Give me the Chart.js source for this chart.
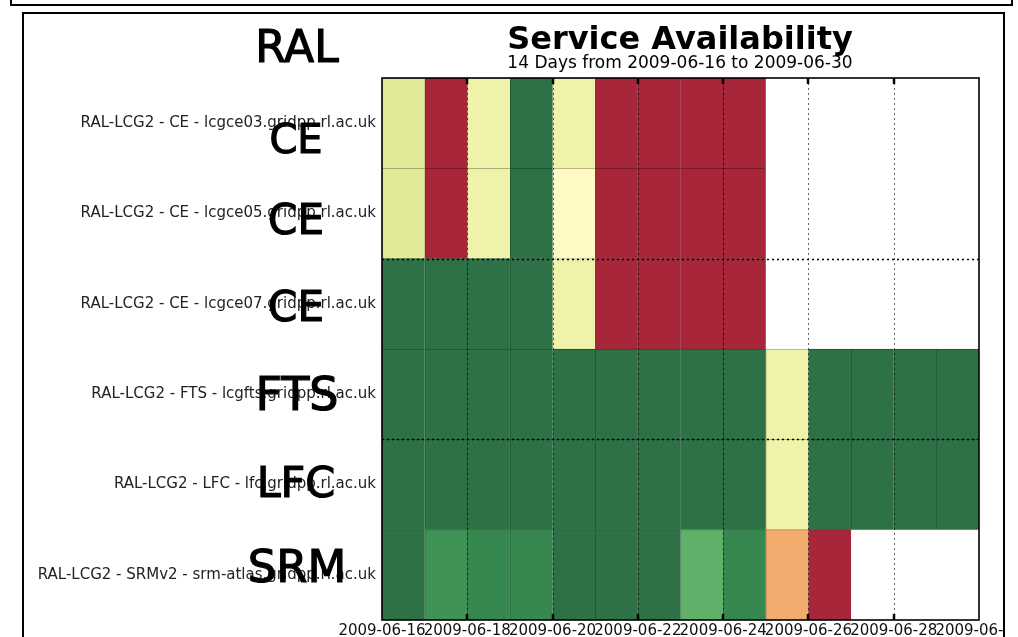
<!DOCTYPE html>
<html>
<head>
<meta charset="utf-8">
<script src="https://cdn.jsdelivr.net/npm/chart.js@4"></script>
<style>
  html, body { margin: 0; padding: 0; background: #fff; width: 1018px; height: 637px; overflow: hidden; position: relative; font-family: "DejaVu Sans", sans-serif; }
  #topbox { position: absolute; left: 10px; top: -10px; width: 1003px; height: 16px; border: 2px solid #000; box-sizing: border-box; }
  #frame { position: absolute; left: 22px; top: 12px; width: 983px; height: 640px; border: 2px solid #000; box-sizing: border-box; overflow: hidden; }
  #chart { position: absolute; left: -24px; top: -14px; }
  .title { position: absolute; left: 380px; width: 600px; text-align: center; color: #000; white-space: nowrap; }
  #t1 { top: 22px; font-size: 32px; font-weight: bold; line-height: 32px; }
  #t2 { top: 54px; font-size: 17px; line-height: 17px; }
  .hand { position: absolute; transform: translate(-50%, -50%); font-family: "DejaVu Sans", sans-serif; line-height: 1; color: #000; white-space: nowrap; -webkit-text-stroke: 1.2px #000; }
</style>
</head>
<body>
<div id="topbox"></div>
<div id="frame"><canvas id="chart" width="1100" height="637"></canvas></div>
<div class="title" id="t1">Service Availability</div>
<div class="title" id="t2">14 Days from 2009-06-16 to 2009-06-30</div>
<div class="hand" style="left:297px; top:47px; font-size:44px;">RAL</div>
<div class="hand" style="left:296px; top:139px; font-size:40px;">CE</div>
<div class="hand" style="left:296px; top:220px; font-size:42px;">CE</div>
<div class="hand" style="left:296px; top:307px; font-size:42px;">CE</div>
<div class="hand" style="left:297px; top:394px; font-size:46px;">FTS</div>
<div class="hand" style="left:296px; top:482px; font-size:43px;">LFC</div>
<div class="hand" style="left:297px; top:566px; font-size:45px;">SRM</div>
<script>
// ---- data ----
const services = [
  'RAL-LCG2 - CE - lcgce03.gridpp.rl.ac.uk',
  'RAL-LCG2 - CE - lcgce05.gridpp.rl.ac.uk',
  'RAL-LCG2 - CE - lcgce07.gridpp.rl.ac.uk',
  'RAL-LCG2 - FTS - lcgfts.gridpp.rl.ac.uk',
  'RAL-LCG2 - LFC - lfc.gridpp.rl.ac.uk',
  'RAL-LCG2 - SRMv2 - srm-atlas.gridpp.rl.ac.uk'
];
const days = ['2009-06-16','2009-06-17','2009-06-18','2009-06-19','2009-06-20','2009-06-21','2009-06-22',
              '2009-06-23','2009-06-24','2009-06-25','2009-06-26','2009-06-27','2009-06-28','2009-06-29'];
const tickLabels = ['2009-06-16','2009-06-18','2009-06-20','2009-06-22','2009-06-24','2009-06-26','2009-06-28','2009-06-30'];
// daily availability (%), null = no data
const ce03 = [60, 0, 55, 100, 55, 0, 0, 0, 0, null, null, null, null, null];
const ce05 = [60, 0, 55, 100, 50, 0, 0, 0, 0, null, null, null, null, null];
const ce07 = [100, 100, 100, 100, 55, 0, 0, 0, 0, null, null, null, null, null];
const fts  = [100, 100, 100, 100, 100, 100, 100, 100, 100, 55, 100, 100, 100, 100];
const lfc  = [100, 100, 100, 100, 100, 100, 100, 100, 100, 55, 100, 100, 100, 100];
const srm  = [100, 90, 95, 95, 100, 100, 100, 80, 95, 30, 0, null, null, null];
const rows = [ce03, ce05, ce07, fts, lfc, srm];

// colour scale for availability
const colourStops = [[0,'#a72639'],[30,'#f2ad6e'],[50,'#fff9c4'],[55,'#eef3a9'],[60,'#e1e996'],
                     [80,'#60b06a'],[90,'#3f9357'],[95,'#378751'],[100,'#2e7146']];
function hex(c){ return [parseInt(c.slice(1,3),16), parseInt(c.slice(3,5),16), parseInt(c.slice(5,7),16)]; }
function colourRGB(v){
  for (let i = 1; i < colourStops.length; i++) {
    const [v1,c1] = colourStops[i-1], [v2,c2] = colourStops[i];
    if (v <= v2) {
      const t = (v - v1) / (v2 - v1), a = hex(c1), b = hex(c2);
      return a.map((x,k) => Math.round(x + (b[k]-x)*t));
    }
  }
  return hex(colourStops[colourStops.length-1][1]);
}
function colour(v){ const c = colourRGB(v); return `rgb(${c[0]},${c[1]},${c[2]})`; }
function edge(v){ const c = colourRGB(v).map(x => Math.round(x*0.72)); return `rgb(${c[0]},${c[1]},${c[2]})`; }

const datasets = days.map((d, i) => ({
  label: d,
  data: rows.map(r => r[i] == null ? null : [i, i + 1]),
  backgroundColor: rows.map(r => r[i] == null ? 'rgba(0,0,0,0)' : colour(r[i])),
  borderColor: rows.map(r => r[i] == null ? 'rgba(0,0,0,0)' : edge(r[i])),
  borderWidth: {top: 1, left: 1, right: 0, bottom: 0},
  borderSkipped: false,
  grouped: false,
  barPercentage: 1,
  categoryPercentage: 1
}));

const overlay = {
  id: 'overlay',
  afterDatasetsDraw(chart) {
    const {ctx, chartArea: a, scales: {x, y}} = chart;
    ctx.save();
    // vertical dotted grid at ticks
    ctx.strokeStyle = 'rgba(0,0,0,0.6)';
    ctx.lineWidth = 1;
    ctx.setLineDash([2, 3]);
    for (let v = 2; v < 14; v += 2) {
      const px = Math.round(x.getPixelForValue(v)) + 0.5;
      ctx.beginPath(); ctx.moveTo(px, a.top); ctx.lineTo(px, a.bottom); ctx.stroke();
    }
    // horizontal dotted grid
    ctx.strokeStyle = '#000';
    ctx.lineWidth = 1.3;
    ctx.setLineDash([2, 3]);
    [1, 3].forEach(i => {
      const py = Math.round((y.getPixelForValue(i) + y.getPixelForValue(i + 1)) / 2) + 0.5;
      ctx.beginPath(); ctx.moveTo(a.left, py); ctx.lineTo(a.right, py); ctx.stroke();
    });
    ctx.setLineDash([]);
    // tick marks
    ctx.lineWidth = 2.5;
    for (let v = 2; v < 14; v += 2) {
      const px = Math.round(x.getPixelForValue(v));
      ctx.beginPath(); ctx.moveTo(px, a.top); ctx.lineTo(px, a.top + 6); ctx.stroke();
      ctx.beginPath(); ctx.moveTo(px, a.bottom); ctx.lineTo(px, a.bottom - 6); ctx.stroke();
    }
    // frame
    ctx.lineWidth = 1.6;
    ctx.strokeRect(a.left, a.top, a.right - a.left, a.bottom - a.top);
    ctx.restore();
  }
};

Chart.defaults.font.family = '"DejaVu Sans", sans-serif';
new Chart(document.getElementById('chart'), {
  type: 'bar',
  data: { labels: services, datasets },
  options: {
    indexAxis: 'y',
    responsive: false,
    animation: false,
    devicePixelRatio: 1,
    layout: { padding: { top: 78, right: 121, bottom: 0, left: 0 } },
    plugins: { legend: { display: false }, tooltip: { enabled: false }, title: { display: false } },
    scales: {
      x: {
        type: 'linear', min: 0, max: 14,
        grid: { display: false, drawTicks: false },
        border: { display: false },
        ticks: {
          stepSize: 2, autoSkip: false, maxRotation: 0, minRotation: 0, padding: 2,
          color: '#111', font: { size: 15 },
          callback: v => tickLabels[v / 2]
        },
        afterFit: s => { s.height = 17; }
      },
      y: {
        type: 'category',
        grid: { display: false, drawTicks: false },
        border: { display: false },
        ticks: { color: '#222', font: { size: 15 }, padding: 6, autoSkip: false },
        afterFit: s => { s.width = 382; }
      }
    }
  },
  plugins: [overlay]
});
</script>
</body>
</html>
